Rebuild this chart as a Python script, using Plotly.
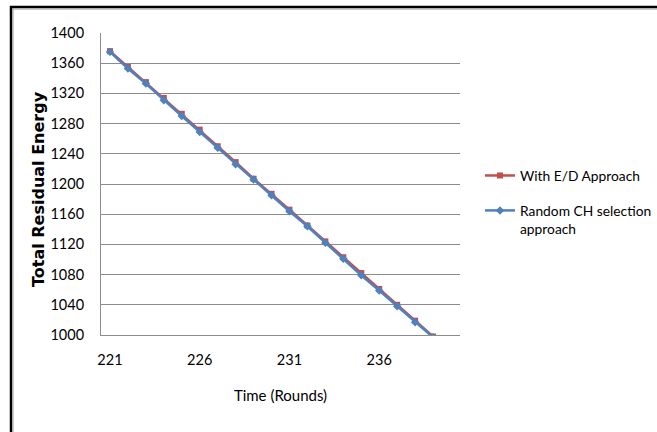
import plotly.graph_objects as go

# Rounds on the category axis
rounds = list(range(221, 240))

# Total residual energy per round for each approach
ed_energy = [1376, 1355, 1335, 1314, 1293, 1272, 1250, 1229, 1207, 1187,
             1166, 1145, 1124, 1103, 1082, 1061, 1040, 1019, 998]
random_energy = [1375, 1353, 1333, 1311, 1290, 1269, 1248, 1226, 1206, 1185,
                 1164, 1144, 1122, 1101, 1079, 1059, 1038, 1017, 997]

x_ticks = [221, 226, 231, 236]
y_ticks = list(range(1000, 1401, 40))

RED = "#C0504D"
BLUE = "#4F81BD"
GRID = "#8C8C8C"
BODY = "Lato"

fig = go.Figure()
fig.add_trace(go.Scatter(
    x=rounds, y=ed_energy, mode="lines+markers", name="With E/D Approach",
    legendgroup="ed",
    line=dict(color=RED, width=2.5),
    marker=dict(symbol="square", size=6, color=RED),
))
fig.add_trace(go.Scatter(
    x=rounds, y=random_energy, mode="lines+markers",
    name="Random CH selection<br>approach", legendgroup="random",
    line=dict(color=BLUE, width=2.5),
    marker=dict(symbol="diamond", size=6.5, color=BLUE),
))

L, R, T, B = 101, 197, 33, 97
W, H = 657, 432
pw, ph = W - L - R, H - T - B


def px_x(px):
    return (px - L) / pw


def px_y(py):
    return (H - B - py) / ph


fig.update_layout(
    width=W, height=H,
    margin=dict(l=L, r=R, t=T, b=B, autoexpand=False),
    paper_bgcolor="white", plot_bgcolor="white",
    font=dict(family=BODY, size=15, color="#000000"),
    showlegend=True,
    legend=dict(
        x=px_x(480), y=px_y(160), xanchor="left", yanchor="top",
        font=dict(family=BODY, size=13.8, color="#000000"),
        tracegroupgap=14, traceorder="grouped", valign="top",
        bgcolor="rgba(0,0,0,0)",
    ),
    xaxis=dict(
        range=[220.5, 240.5], tickvals=x_ticks,
        showgrid=False, zeroline=False,
        showline=True, linecolor=GRID, linewidth=1,
        ticks="", ticklabelstandoff=12,
        tickfont=dict(family=BODY, size=14.5),
        title=dict(text="Time (Rounds)", font=dict(family=BODY, size=15), standoff=23),
    ),
    yaxis=dict(
        range=[1000, 1400], tickvals=y_ticks,
        showgrid=True, gridcolor=GRID, gridwidth=1,
        zeroline=False,
        showline=True, linecolor=GRID, linewidth=1,
        ticks="", ticklabelstandoff=13,
        tickfont=dict(family=BODY, size=14.5),
    ),
    annotations=[
        # vertical y-axis title
        dict(text="<b>Total Residual Energy</b>", textangle=-90,
             xref="paper", yref="paper", x=px_x(38), y=px_y(189),
             xanchor="center", yanchor="middle", showarrow=False,
             font=dict(family="DejaVu Sans", size=16, color="#000000")),
    ],
    shapes=[
        # outer frame: top and left edges
        dict(type="line", xref="paper", yref="paper",
             x0=px_x(10), x1=px_x(657), y0=px_y(7), y1=px_y(7),
             line=dict(color="black", width=2.5)),
        dict(type="line", xref="paper", yref="paper",
             x0=px_x(10), x1=px_x(657), y0=px_y(9), y1=px_y(9),
             line=dict(color="#9a9a9a", width=1)),
        dict(type="line", xref="paper", yref="paper",
             x0=px_x(11), x1=px_x(11), y0=px_y(6), y1=px_y(432),
             line=dict(color="black", width=2.5)),
        dict(type="line", xref="paper", yref="paper",
             x0=px_x(13), x1=px_x(13), y0=px_y(8), y1=px_y(432),
             line=dict(color="#9a9a9a", width=1)),
    ],
)

fig.write_html("out.html")
